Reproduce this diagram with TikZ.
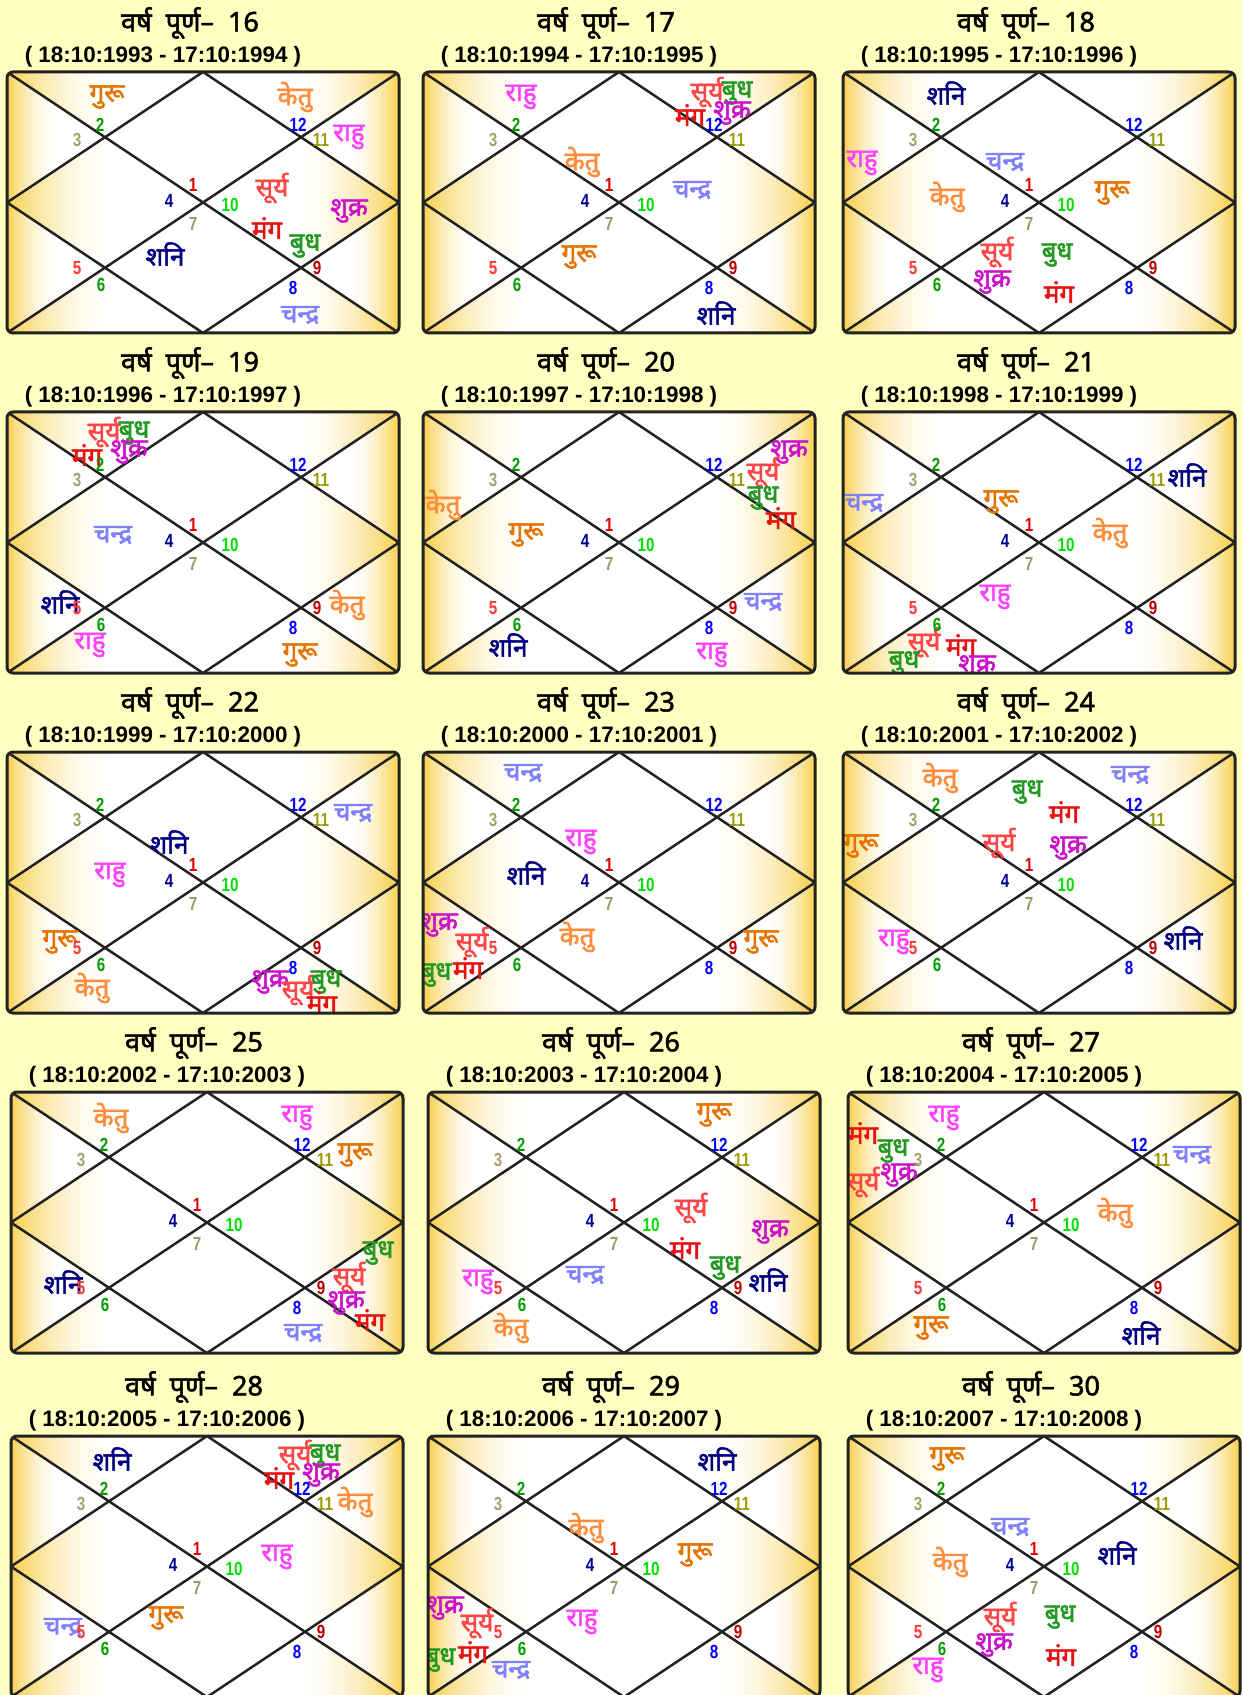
\documentclass[tikz,border=0pt]{standalone}
\usepackage{fontspec}
\usepackage{xcolor}
\usepackage{tikz}
\newfontfamily\devfont[Script=Devanagari,FakeBold=2]{Noto Sans}
\newfontfamily\datefont{Liberation Sans}
\newfontfamily\numfont[FakeStretch=0.8]{Liberation Sans}

\definecolor{paper}{HTML}{FFFFC0}
\definecolor{goldA}{HTML}{F8D050}
\definecolor{frame}{HTML}{222222}
% planets
\definecolor{csu}{HTML}{FF4545}
\definecolor{cch}{HTML}{8080FF}
\definecolor{cma}{HTML}{E81010}
\definecolor{cbu}{HTML}{229922}
\definecolor{cgu}{HTML}{E67300}
\definecolor{csk}{HTML}{CC11CC}
\definecolor{csa}{HTML}{000080}
\definecolor{cra}{HTML}{FF40FF}
\definecolor{cke}{HTML}{FF8C3A}
% house numbers
\definecolor{h1}{HTML}{E00000}
\definecolor{h2}{HTML}{009900}
\definecolor{h3}{HTML}{A3A36B}
\definecolor{h4}{HTML}{000090}
\definecolor{h5}{HTML}{FF3838}
\definecolor{h6}{HTML}{00A000}
\definecolor{h7}{HTML}{9C9C6A}
\definecolor{h8}{HTML}{0000FF}
\definecolor{h9}{HTML}{C00000}
\definecolor{h10}{HTML}{00E000}
\definecolor{h11}{HTML}{9C9C00}
\definecolor{h12}{HTML}{0000FF}

\newcommand\plsu{सूर्य}
\newcommand\plch{चन्द्र}
\newcommand\plma{मंग}
\newcommand\plbu{बुध}
\newcommand\plgu{गुरू}
\newcommand\plsk{शुक्र}
\newcommand\plsa{शनि}
\newcommand\plra{राहु}
\newcommand\plke{केतु}

\tikzset{
  titletext/.style={font=\devfont\fontsize{13.5}{15}\selectfont,inner sep=0pt},
  datetext/.style={font=\datefont\bfseries\fontsize{11.2}{13}\selectfont,inner sep=0pt},
  planet/.style={font=\devfont\fontsize{13}{14}\selectfont,inner sep=0pt},
  housenum/.style={font=\numfont\bfseries\fontsize{9.5}{10}\selectfont,inner sep=0pt},
  chartline/.style={frame,line width=1.25pt},
  chartframe/.style={frame,line width=1.5pt,rounded corners=3pt}
}

% gold fading from an edge: #1 edge x, #2 signed fade length
\newcommand\goldband[2]{%
  \foreach \k [evaluate=\k as \pc using {100*(1-\k/25)^2}] in {0,...,24}
    \fill[goldA!\pc] ({#1+\k*#2/25},0) rectangle ({#1+(\k+1.2)*#2/25},261);}

% #1,#2 top left of the box, #3 year, #4 dates, #5 planets
\newcommand\varshchart[5]{%
  \begin{scope}[shift={(#1,#2)}]
    \node[titletext] (t#3) at (183,-49) {वर्ष\hspace{7pt}पूर्ण–\hspace{7pt}#3};
    \node[datetext] (d#3) at (156,-15) {( #4 )};
    \begin{scope}
      \clip[rounded corners=3pt] (0,0) rectangle (392,261);
      \fill[white] (0,0) rectangle (392,261);
      \begin{scope}
        \clip (0,0) -- (196,0) -- (98,65.25) -- cycle
          (0,130.5) -- (98,65.25) -- (196,130.5) -- (98,195.75) -- cycle
          (0,261) -- (98,195.75) -- (196,261) -- cycle;
        \goldband{0}{108}
      \end{scope}
      \begin{scope}
        \clip (0,0) -- (98,65.25) -- (0,130.5) -- cycle
          (0,130.5) -- (98,195.75) -- (0,261) -- cycle;
        \goldband{0}{52}
      \end{scope}
      \begin{scope}
        \clip (392,0) -- (196,0) -- (294,65.25) -- cycle
          (392,130.5) -- (294,65.25) -- (196,130.5) -- (294,195.75) -- cycle
          (392,261) -- (294,195.75) -- (196,261) -- cycle;
        \goldband{392}{-108}
      \end{scope}
      \begin{scope}
        \clip (392,0) -- (294,65.25) -- (392,130.5) -- cycle
          (392,130.5) -- (294,195.75) -- (392,261) -- cycle;
        \goldband{392}{-52}
      \end{scope}
      \draw[chartline] (0,0) -- (392,261) (392,0) -- (0,261)
        (196,0) -- (392,130.5) -- (196,261) -- (0,130.5) -- cycle;
      \foreach \pl/\px/\py in {#5}
        \node[planet,text=c\pl] (p#3\pl) at (\px,\py) {\csname pl\pl\endcsname};
    \end{scope}
    \draw[chartframe] (0,0) rectangle (392,261);
    \foreach \h/\hx/\hy in {1/186/113,2/93/53,3/70/68,4/162/129,5/70/196,6/94/213,
                            7/186/152,8/286/216,9/310/196,10/223/133,11/314/68,12/291/53}
      \node[housenum,text=h\h] (h#3-\h) at (\hx,\hy) {\h};
  \end{scope}}

\begin{document}
\begin{tikzpicture}[x=0.5pt,y=-0.5pt]
  \useasboundingbox (0,0) rectangle (1242,1695);
  \fill[paper] (0,0) rectangle (1242,1695);
  % row 1
  \varshchart{7}{72}{16}{18:10:1993 - 17:10:1994}
    {gu/100/25,ke/288/25,ra/342/65,su/265/116,sk/342/139,ma/260/156,bu/298/174,sa/158/182,ch/293/243}
  \varshchart{423}{72}{17}{18:10:1994 - 17:10:1995}
    {ra/98/25,su/284/20,bu/314/21,ma/267/43,sk/309/41,ke/159/90,ch/269/118,gu/156/185,sa/293/241}
  \varshchart{843}{72}{18}{18:10:1995 - 17:10:1996}
    {sa/103/21,ra/19/91,ch/162/90,ke/104/125,gu/269/121,su/154/180,bu/214/183,sk/149/210,ma/216/220}
  % row 2
  \varshchart{7}{412}{19}{18:10:1996 - 17:10:1997}
    {su/97/20,bu/127/21,ma/80/43,sk/122/40,ch/106/123,sa/53/190,ke/340/193,ra/83/233,gu/293/243}
  \varshchart{423}{412}{20}{18:10:1997 - 17:10:1998}
    {sk/366/40,su/340/60,bu/340/86,ma/358/106,ke/20/93,gu/103/123,ch/340/190,sa/85/233,ra/289/243}
  \varshchart{843}{412}{21}{18:10:1998 - 17:10:1999}
    {sa/344/63,ch/21/91,gu/158/90,ke/267/121,ra/152/185,su/81/230,ma/118/233,bu/61/251,sk/134/255}
  % row 3
  \varshchart{7}{752}{22}{18:10:1999 - 17:10:2000}
    {ch/346/61,sa/162/90,ra/103/123,gu/53/190,ke/85/236,sk/263/230,su/291/238,bu/319/230,ma/315/250}
  \varshchart{423}{752}{23}{18:10:2000 - 17:10:2001}
    {ch/100/21,ra/158/90,sa/103/121,ke/154/185,gu/338/190,sk/16/173,su/49/190,bu/13/223,ma/45/216}
  \varshchart{843}{752}{24}{18:10:2001 - 17:10:2002}
    {ke/97/26,ch/287/23,bu/184/40,ma/221/60,gu/18/94,su/156/91,sk/225/96,ra/51/190,sa/340/186}
  % row 4
  \varshchart{11}{1092}{25}{18:10:2002 - 17:10:2003}
    {ke/100/26,ra/286/26,gu/344/63,sa/52/190,bu/367/161,su/338/185,sk/335/211,ma/359/228,ch/292/241}
  \varshchart{428}{1092}{26}{18:10:2003 - 17:10:2004}
    {gu/286/23,su/263/116,sk/342/140,ma/257/156,bu/297/176,sa/340/188,ch/157/183,ra/50/190,ke/83/236}
  \varshchart{848}{1092}{27}{18:10:2004 - 17:10:2005}
    {ra/96/26,ma/15/41,bu/45/59,su/15/90,sk/51/83,ch/344/63,ke/267/121,gu/83/236,sa/293/241}
  % row 5
  \varshchart{11}{1436}{28}{18:10:2005 - 17:10:2006}
    {sa/101/23,su/284/19,bu/314/20,ma/268/42,sk/310/39,ke/344/66,ra/266/121,gu/155/182,ch/52/191}
  \varshchart{428}{1436}{29}{18:10:2006 - 17:10:2007}
    {sa/289/23,ke/158/92,gu/267/119,ra/154/186,sk/17/172,su/49/187,bu/12/224,ma/45/216,ch/83/234}
  \varshchart{848}{1436}{30}{18:10:2007 - 17:10:2008}
    {gu/99/23,ch/162/91,ke/102/126,sa/269/117,su/152/181,bu/212/181,sk/146/209,ma/213/219,ra/80/234}
\end{tikzpicture}
\end{document}
